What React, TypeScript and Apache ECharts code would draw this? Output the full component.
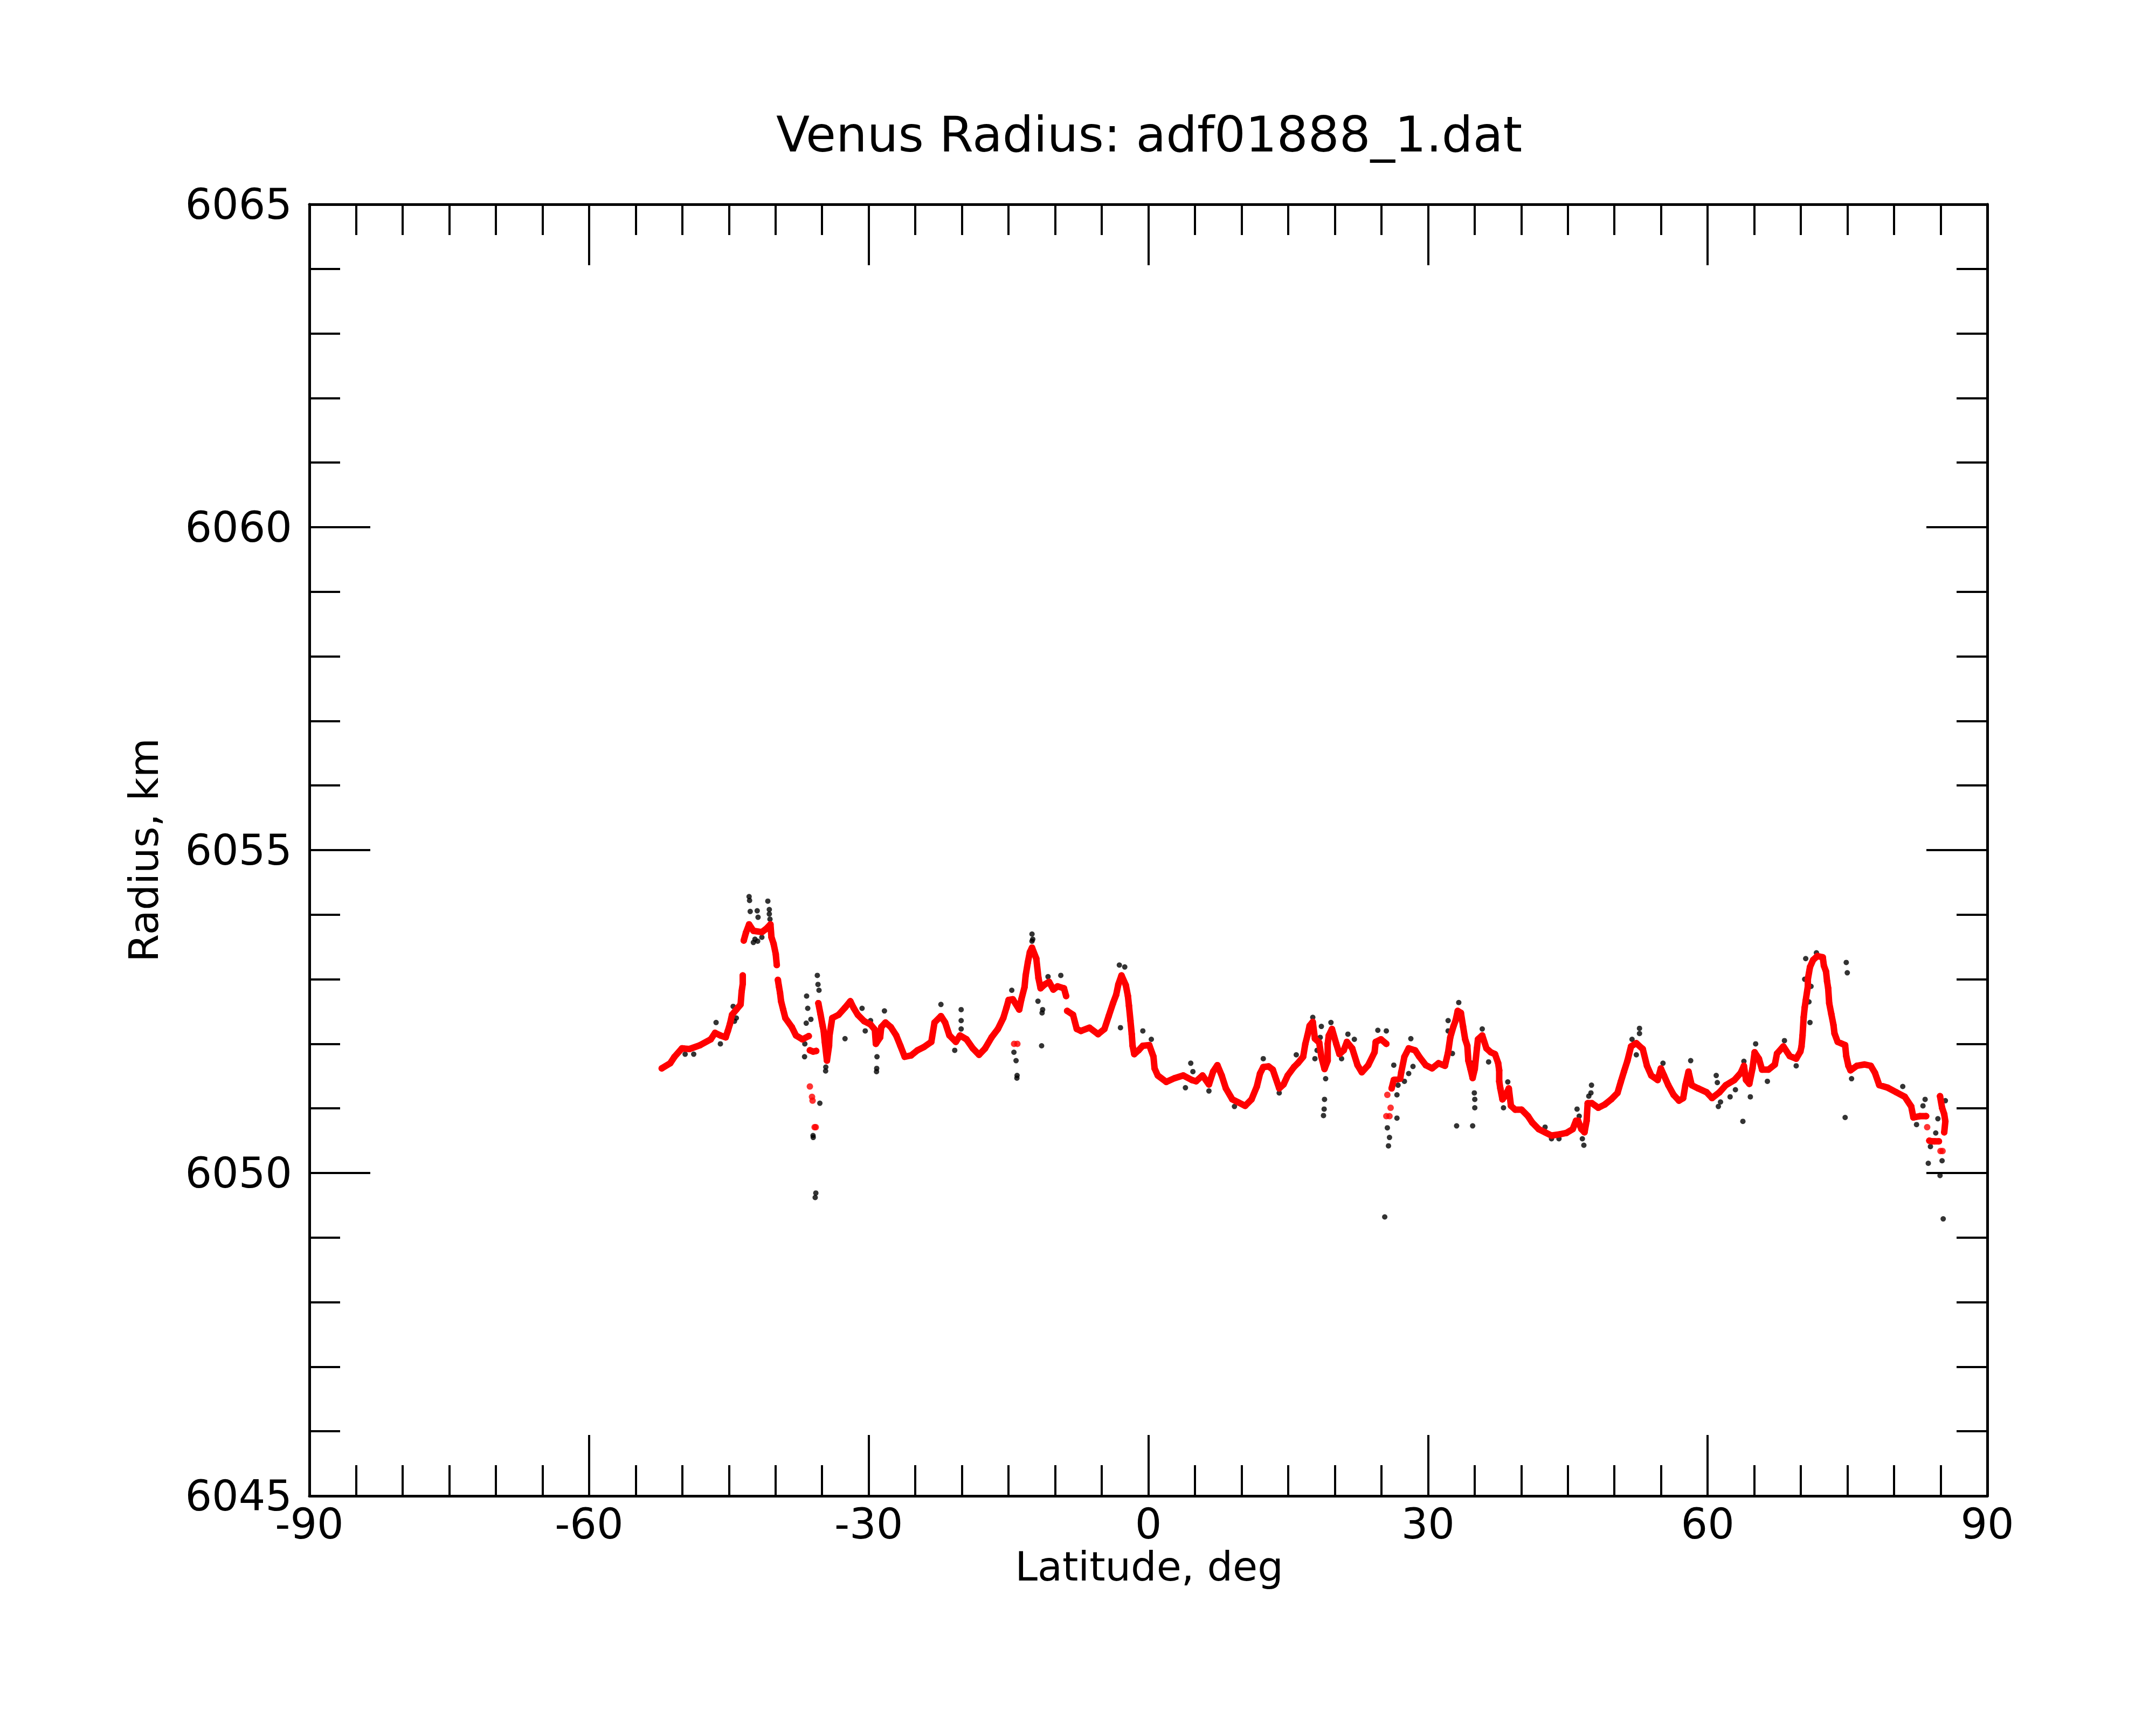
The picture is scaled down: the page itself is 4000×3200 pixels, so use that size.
import React, { useEffect, useRef } from "react";
import * as echarts from "echarts";

const titleText = "Venus Radius: adf01888_1.dat";
const xName = "Latitude, deg";
const yName = "Radius, km";

// Smoothed radius (red), contiguous runs
const redSegA: [number, number][] = [
  [-52.2, 6051.62], [-51.29, 6051.7], [-50.83, 6051.8], [-50.03, 6051.93], [-49.23, 6051.92],
  [-48.08, 6051.98], [-46.94, 6052.07], [-46.48, 6052.17], [-45.91, 6052.13], [-45.34, 6052.1],
  [-45.11, 6052.2], [-44.88, 6052.31], [-44.66, 6052.45], [-44.2, 6052.53], [-43.74, 6052.61],
  [-43.63, 6052.81], [-43.51, 6052.93], [-43.51, 6053.06],
];
const redSegB: [number, number][] = [
  [-43.4, 6053.6], [-43.17, 6053.72], [-42.83, 6053.85], [-42.37, 6053.75], [-41.46, 6053.73],
  [-41.0, 6053.78], [-40.54, 6053.85], [-40.43, 6053.65], [-40.2, 6053.55], [-39.97, 6053.39],
  [-39.86, 6053.22],
];
const redSegC: [number, number][] = [
  [-39.74, 6052.99], [-39.63, 6052.89], [-39.51, 6052.79], [-39.4, 6052.66], [-39.17, 6052.53],
  [-38.94, 6052.4], [-38.25, 6052.26], [-37.8, 6052.13], [-37.11, 6052.07], [-36.43, 6052.12],
];
const redSegD: [number, number][] = [
  [-36.31, 6051.9], [-35.97, 6051.88], [-35.63, 6051.89],
];
const redSegE: [number, number][] = [
  [-35.4, 6052.63], [-35.17, 6052.46], [-34.94, 6052.28], [-34.83, 6052.2], [-34.71, 6052.03],
  [-34.48, 6051.74], [-34.25, 6051.97], [-34.2, 6052.13], [-33.91, 6052.4], [-33.23, 6052.45],
  [-32.54, 6052.56], [-31.97, 6052.66], [-31.63, 6052.56], [-31.17, 6052.45], [-30.48, 6052.35],
  [-29.8, 6052.3], [-29.34, 6052.22], [-29.23, 6052.0], [-28.77, 6052.1], [-28.65, 6052.26],
  [-28.2, 6052.33], [-27.63, 6052.26], [-27.05, 6052.13], [-26.6, 6051.97], [-26.14, 6051.8],
  [-25.45, 6051.82], [-24.77, 6051.9], [-24.08, 6051.95], [-23.28, 6052.03], [-22.94, 6052.33],
  [-22.25, 6052.43], [-21.8, 6052.33], [-21.34, 6052.13], [-20.65, 6052.03], [-20.2, 6052.13],
  [-19.51, 6052.07], [-18.83, 6051.93], [-18.16, 6051.83], [-17.51, 6051.93], [-16.82, 6052.1],
  [-16.14, 6052.23], [-15.56, 6052.4], [-15.22, 6052.56], [-14.99, 6052.68], [-14.54, 6052.69],
  [-13.85, 6052.53], [-13.62, 6052.69], [-13.28, 6052.88], [-13.16, 6053.06], [-12.93, 6053.26],
  [-12.71, 6053.42], [-12.48, 6053.49], [-12.02, 6053.32], [-11.79, 6053.02], [-11.56, 6052.86],
  [-11.11, 6052.92], [-10.65, 6052.96], [-10.19, 6052.84], [-9.74, 6052.89], [-9.05, 6052.86],
  [-8.82, 6052.74],
];
const redSegF: [number, number][] = [
  [-8.71, 6052.51], [-8.08, 6052.45], [-7.68, 6052.23], [-7.22, 6052.2], [-6.31, 6052.25],
  [-5.39, 6052.15], [-4.71, 6052.23], [-4.25, 6052.43], [-3.79, 6052.63], [-3.45, 6052.76],
  [-3.22, 6052.92], [-2.88, 6053.06], [-2.42, 6052.91], [-2.19, 6052.74], [-2.08, 6052.59],
  [-1.92, 6052.36], [-1.78, 6052.15], [-1.69, 6051.97], [-1.51, 6051.84], [-1.05, 6051.9],
  [-0.59, 6051.97], [0.1, 6051.98], [0.55, 6051.8], [0.67, 6051.62], [1.01, 6051.51],
  [1.92, 6051.41], [2.84, 6051.47], [3.75, 6051.51], [4.67, 6051.44], [5.12, 6051.42],
  [5.81, 6051.51], [6.5, 6051.37], [6.95, 6051.57], [7.41, 6051.67], [7.87, 6051.51],
  [8.32, 6051.31], [9.01, 6051.14], [9.7, 6051.09], [10.38, 6051.04], [11.07, 6051.14],
  [11.64, 6051.34], [11.98, 6051.54], [12.33, 6051.64], [12.9, 6051.65], [13.35, 6051.6],
  [14.04, 6051.31], [14.5, 6051.37], [14.95, 6051.51], [15.62, 6051.64], [16.04, 6051.7],
  [16.61, 6051.8], [16.84, 6052.0], [17.07, 6052.13], [17.3, 6052.28], [17.64, 6052.34],
  [17.87, 6052.08], [18.33, 6052.02], [18.56, 6051.8], [18.9, 6051.61], [19.24, 6051.74],
  [19.24, 6052.0], [19.36, 6052.13], [19.7, 6052.23], [20.16, 6052.0], [20.5, 6051.84],
  [20.96, 6051.9], [21.3, 6052.03], [21.87, 6051.93], [22.44, 6051.67], [22.9, 6051.56],
  [23.59, 6051.67], [24.27, 6051.87], [24.39, 6052.03], [24.96, 6052.07], [25.53, 6052.0],
];
const redSegG: [number, number][] = [
  [26.1, 6051.31], [26.33, 6051.44], [27.02, 6051.46], [27.13, 6051.56], [27.47, 6051.8],
  [27.93, 6051.93], [28.62, 6051.9], [29.07, 6051.8], [29.76, 6051.67], [30.44, 6051.62],
  [31.13, 6051.7], [31.82, 6051.66], [32.16, 6051.87], [32.39, 6052.1], [32.73, 6052.27],
  [32.96, 6052.36], [33.19, 6052.51], [33.53, 6052.48], [33.76, 6052.27], [33.99, 6052.07],
  [34.22, 6051.97], [34.33, 6051.74], [34.56, 6051.61], [34.79, 6051.47], [35.02, 6051.61],
  [35.25, 6051.93], [35.36, 6052.07], [35.82, 6052.13], [36.27, 6051.93], [36.73, 6051.87],
  [37.19, 6051.84], [37.53, 6051.7], [37.64, 6051.59], [37.64, 6051.42], [37.76, 6051.31],
  [37.99, 6051.14], [38.3, 6051.2], [38.67, 6051.31], [38.9, 6051.04], [39.36, 6050.98],
  [40.04, 6050.98], [40.73, 6050.88], [41.19, 6050.78], [41.87, 6050.68], [42.56, 6050.63],
  [43.25, 6050.58], [44.16, 6050.6], [44.85, 6050.62], [45.53, 6050.68], [45.88, 6050.81],
  [46.1, 6050.81], [46.45, 6050.68], [46.79, 6050.63], [47.02, 6050.81], [47.13, 6051.08],
  [47.59, 6051.08], [48.27, 6051.01], [48.96, 6051.06], [49.65, 6051.14], [50.33, 6051.24],
  [50.68, 6051.41], [51.02, 6051.57], [51.4, 6051.74], [51.78, 6051.96], [52.35, 6052.01],
  [53.04, 6051.92], [53.49, 6051.66], [53.95, 6051.51], [54.64, 6051.44], [54.98, 6051.62],
  [55.32, 6051.51], [55.78, 6051.36], [56.35, 6051.21], [56.92, 6051.12], [57.38, 6051.16],
  [57.61, 6051.36], [57.95, 6051.57], [58.29, 6051.36], [58.98, 6051.31], [59.89, 6051.25],
  [60.47, 6051.16], [61.27, 6051.25], [61.95, 6051.36], [62.87, 6051.44], [63.55, 6051.55],
  [63.89, 6051.66], [64.12, 6051.44], [64.47, 6051.38], [64.81, 6051.62], [65.04, 6051.87],
  [65.5, 6051.77], [65.84, 6051.6], [66.52, 6051.6], [67.21, 6051.68], [67.44, 6051.85],
  [68.12, 6051.96], [68.81, 6051.81], [69.5, 6051.77], [69.95, 6051.88], [70.07, 6051.96],
  [70.18, 6052.13], [70.3, 6052.41], [70.41, 6052.56], [70.52, 6052.67], [70.75, 6052.89],
  [70.75, 6053.0], [70.98, 6053.19], [71.32, 6053.3], [71.78, 6053.36], [72.35, 6053.34],
  [72.47, 6053.21], [72.7, 6053.12], [72.81, 6052.97], [72.93, 6052.86], [73.04, 6052.63],
  [73.27, 6052.46], [73.5, 6052.29], [73.61, 6052.16], [73.95, 6052.03], [74.75, 6051.98],
  [74.87, 6051.81], [75.1, 6051.66], [75.32, 6051.59], [76.01, 6051.66], [76.81, 6051.68],
  [77.5, 6051.66], [77.95, 6051.55], [78.41, 6051.36], [79.33, 6051.32], [80.24, 6051.25],
  [81.15, 6051.18], [81.84, 6051.03], [82.07, 6050.86], [82.75, 6050.88], [83.44, 6050.88],
];
const redSegH: [number, number][] = [
  [83.78, 6050.5], [84.1, 6050.49], [84.35, 6050.49], [84.81, 6050.49],
];
const redSegI: [number, number][] = [
  [84.93, 6051.19], [85.15, 6051.01], [85.38, 6050.91], [85.5, 6050.8], [85.38, 6050.63],
];
// Smoothed radius (red), single points off the runs
const redSingles: [number, number][] = [
  [-36.31, 6051.34], [-36.08, 6051.18], [-36.02, 6051.12], [-35.8, 6050.71], [-35.68, 6050.71],
  [-14.4, 6052.0], [-14.05, 6052.0], [25.64, 6051.21], [25.99, 6051.01], [25.53, 6050.88],
  [25.87, 6050.88], [83.55, 6050.71], [84.98, 6050.34], [85.2, 6050.34],
];

// Raw radius samples (black) that show outside the red trace
const blackRaw: [number, number][] = [
  [-42.83, 6054.28], [-42.78, 6054.22], [-42.71, 6054.05], [-41.96, 6054.06], [-41.87, 6053.96],
  [-40.82, 6054.21], [-40.66, 6054.01], [-40.66, 6054.08], [-40.59, 6053.93], [-42.37, 6053.57],
  [-41.91, 6053.59], [-41.46, 6053.65], [-42.2, 6053.62], [-36.66, 6052.74], [-36.54, 6052.55],
  [-36.2, 6052.38], [-36.7, 6052.32], [-36.88, 6051.8], [-36.85, 6052.0], [-35.51, 6053.06],
  [-35.44, 6052.92], [-35.33, 6052.83], [-35.24, 6051.08], [-35.97, 6050.58], [-35.95, 6050.55],
  [-35.67, 6049.69], [-35.74, 6049.62], [-34.6, 6051.64], [-34.62, 6051.58], [-32.54, 6052.08],
  [-30.71, 6052.55], [-29.8, 6052.36], [-30.37, 6052.2], [-29.11, 6051.8], [-29.16, 6051.57],
  [-29.14, 6051.62], [-28.31, 6052.51], [-22.25, 6052.61], [-20.08, 6052.53], [-20.08, 6052.36],
  [-20.08, 6052.23], [-20.77, 6051.9], [-45.91, 6052.0], [-46.37, 6052.33], [-49.69, 6051.84],
  [-48.77, 6051.84], [-44.2, 6052.4], [-44.54, 6052.58], [-44.4, 6052.35],
  [-12.48, 6053.7], [-12.48, 6053.59], [-12.4, 6053.62], [-14.65, 6052.83], [-14.42, 6051.87],
  [-14.19, 6051.74], [-14.08, 6051.51], [-14.1, 6051.47], [-11.84, 6052.66], [-11.34, 6052.53],
  [-11.4, 6052.48], [-11.45, 6051.97], [-10.76, 6053.04], [-9.39, 6053.06], [-3.11, 6053.22],
  [-2.53, 6053.19], [-2.99, 6052.25], [-0.59, 6052.2], [0.32, 6052.07], [4.55, 6051.7],
  [4.78, 6051.57], [3.98, 6051.32], [6.5, 6051.27], [9.24, 6051.03], [12.33, 6051.77],
  [14.04, 6051.24], [15.87, 6051.83],
  [17.64, 6052.41], [18.56, 6052.27], [18.44, 6052.1], [18.1, 6051.9], [17.87, 6051.77],
  [19.02, 6051.46], [18.9, 6051.14], [18.86, 6050.99], [18.79, 6050.89], [19.59, 6052.33],
  [21.41, 6052.15], [22.1, 6052.07], [20.73, 6051.77], [24.62, 6052.21], [25.53, 6052.2],
  [25.64, 6050.7], [25.87, 6050.55], [25.76, 6050.42], [26.67, 6050.85], [26.67, 6051.21],
  [26.79, 6051.36], [26.33, 6051.67], [27.47, 6051.42], [27.93, 6051.54], [28.39, 6051.65],
  [28.16, 6052.08], [32.16, 6052.36], [32.16, 6052.2], [32.62, 6051.85], [33.3, 6052.64],
  [33.07, 6050.73], [34.79, 6050.73], [34.97, 6051.24], [35.02, 6051.14], [35.02, 6051.01],
  [34.68, 6051.7], [35.82, 6052.23], [36.5, 6051.72], [38.56, 6051.41], [38.1, 6051.01],
  [42.56, 6050.71], [43.25, 6050.53], [44.05, 6050.53], [45.99, 6050.99], [46.22, 6050.88],
  [46.56, 6050.53], [46.72, 6050.43], [47.54, 6051.36], [47.48, 6051.24], [47.25, 6051.19],
  [25.36, 6049.32],
  [52.69, 6052.24], [52.69, 6052.16], [51.89, 6052.07], [52.35, 6051.83], [55.21, 6051.7],
  [58.18, 6051.74], [60.92, 6051.51], [61.04, 6051.4], [61.15, 6051.03], [61.38, 6051.1],
  [62.41, 6051.18], [62.98, 6051.29], [63.78, 6050.8], [63.89, 6051.73], [64.58, 6051.18],
  [65.15, 6052.0], [66.41, 6051.42], [68.24, 6052.05], [69.5, 6051.66], [70.52, 6053.32],
  [70.41, 6053.0], [71.09, 6052.89], [70.87, 6052.65], [70.98, 6052.33], [71.67, 6053.41],
  [74.87, 6053.26], [74.98, 6053.1], [74.75, 6050.86], [75.44, 6051.46], [80.93, 6051.34],
  [83.33, 6051.14], [83.1, 6051.04], [82.41, 6050.75], [83.67, 6050.15], [83.9, 6050.41],
  [84.47, 6050.62], [84.7, 6050.84], [84.93, 6049.96], [85.15, 6050.19], [85.27, 6049.29],
  [85.5, 6051.12],
];

const redSegments = [redSegA, redSegB, redSegC, redSegD, redSegE, redSegF, redSegG, redSegH, redSegI];

const FONT = "DejaVu Sans";

export default function App() {
  const ref = useRef<HTMLDivElement>(null);
  useEffect(() => {
    if (!ref.current) return;
    const chart = echarts.init(ref.current, undefined, { renderer: "svg" });
    const axisCommon = {
      type: "value" as const,
      axisLine: { show: true, onZero: false, lineStyle: { color: "#000", width: 5 } },
      axisTick: { show: true, inside: true, lineStyle: { color: "#000", width: 4 } },
      minorTick: { show: true, lineStyle: { color: "#000", width: 4 } },
      splitLine: { show: false },
      minorSplitLine: { show: false },
    };
    const xBase = {
      ...axisCommon,
      min: -90,
      max: 90,
      interval: 30,
      axisTick: { ...axisCommon.axisTick, length: 113 },
      minorTick: { ...axisCommon.minorTick, splitNumber: 6, length: 57 },
    };
    const yBase = {
      ...axisCommon,
      min: 6045,
      max: 6065,
      interval: 5,
      axisTick: { ...axisCommon.axisTick, length: 113 },
      minorTick: { ...axisCommon.minorTick, splitNumber: 5, length: 57 },
    };
    const series: any[] = [
      {
        type: "scatter",
        data: blackRaw,
        symbol: "circle",
        symbolSize: 10,
        itemStyle: { color: "#000" },
        silent: true,
      },
    ];
    redSegments.forEach((seg) => {
      series.push({
        type: "line",
        data: seg,
        symbol: "circle",
        symbolSize: 12,
        showSymbol: true,
        showAllSymbol: true,
        itemStyle: { color: "#ff0000" },
        lineStyle: { color: "#ff0000", width: 12, cap: "round", join: "round" },
        silent: true,
      });
    });
    series.push({
      type: "scatter",
      data: redSingles,
      symbol: "circle",
      symbolSize: 12,
      itemStyle: { color: "#ff0000" },
      silent: true,
    });
    chart.setOption({
      animation: false,
      backgroundColor: "#fff",
      grid: { left: 574, top: 379, width: 3113, height: 2396, containLabel: false },
      xAxis: [
        {
          ...xBase,
          position: "bottom",
          axisLabel: {
            show: true,
            color: "#000",
            fontSize: 78,
            lineHeight: 60,
            fontFamily: FONT,
            margin: 22,
          },
        },
        { ...xBase, position: "top", axisLabel: { show: false } },
      ],
      yAxis: [
        {
          ...yBase,
          position: "left",
          axisLabel: {
            show: true,
            color: "#000",
            fontSize: 78,
            fontFamily: FONT,
            margin: 32,
            formatter: (v: number) => String(v),
          },
        },
        { ...yBase, position: "right", axisLabel: { show: false } },
      ],
      series,
      graphic: [
        {
          type: "text",
          x: 2132,
          y: 249,
          style: {
            text: titleText,
            fontSize: 91,
            fontFamily: FONT,
            fill: "#000",
            align: "center",
            verticalAlign: "middle",
            textAlign: "center",
            textVerticalAlign: "middle",
          },
        },
        {
          type: "text",
          x: 2132,
          y: 2906,
          style: {
            text: xName,
            fontSize: 75,
            lineHeight: 60,
            fontFamily: FONT,
            fill: "#000",
            align: "center",
            verticalAlign: "middle",
            textAlign: "center",
            textVerticalAlign: "middle",
          },
        },
        {
          type: "text",
          x: 267,
          y: 1577,
          rotation: Math.PI / 2,
          style: {
            text: yName,
            fontSize: 75,
            fontFamily: FONT,
            fill: "#000",
            align: "center",
            verticalAlign: "middle",
            textAlign: "center",
            textVerticalAlign: "middle",
          },
        },
      ],
    });
    return () => chart.dispose();
  }, []);
  return (
    <div
      ref={ref}
      style={{ position: "absolute", left: 0, top: 0, width: 4000, height: 3200, background: "#fff" }}
    />
  );
}
